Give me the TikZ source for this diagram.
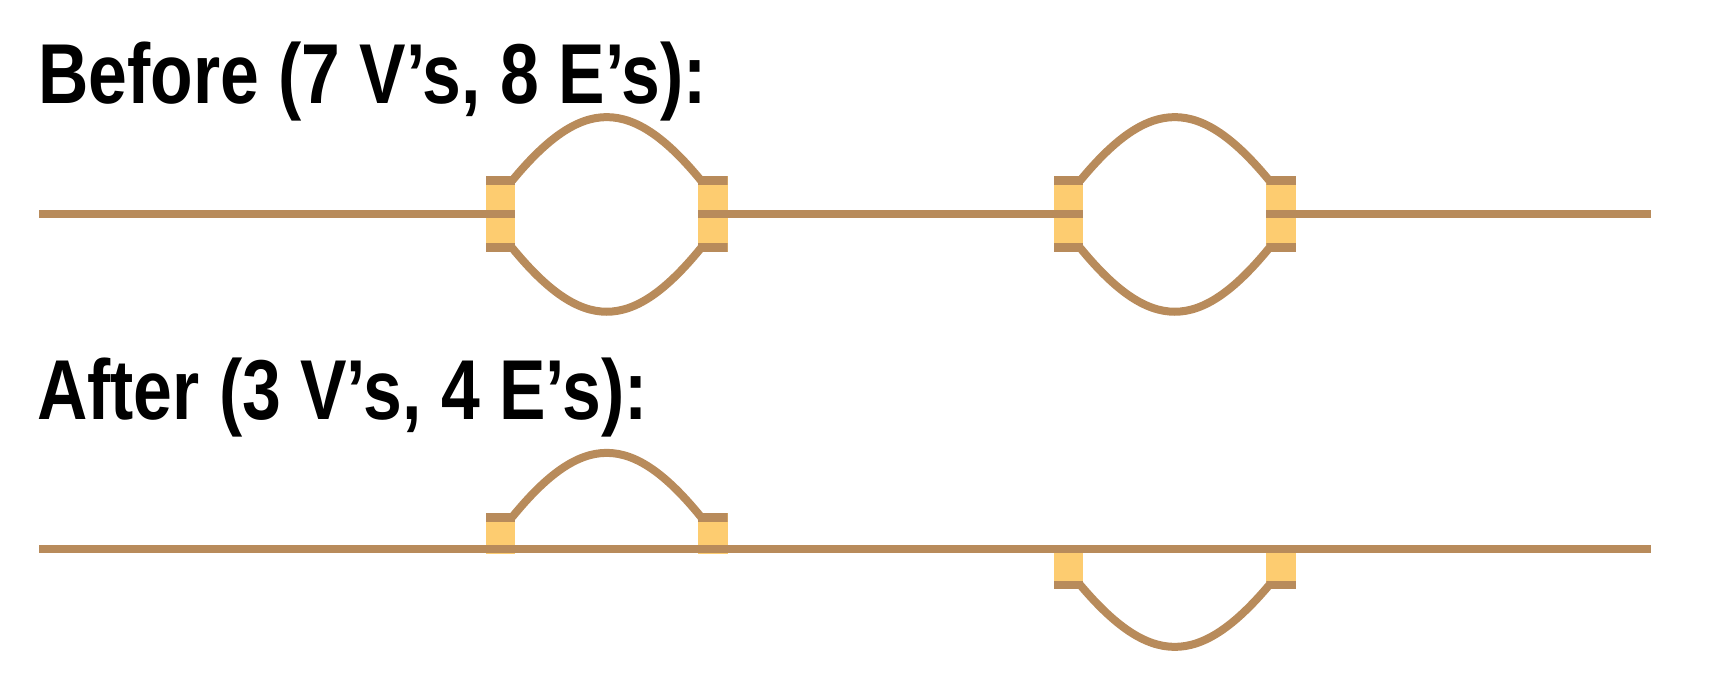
\documentclass[tikz,border=0pt]{standalone}
\usepackage{fontspec}
\setmainfont{Liberation Sans}
\usepackage{graphicx}
\usetikzlibrary{calc}
\definecolor{vbrown}{RGB}{184,139,91}
\definecolor{vyellow}{RGB}{253,204,112}
\tikzset{
  vert/.style={rectangle, fill=vyellow, minimum width=29.5pt, inner sep=0pt, outer sep=0pt},
  bothbars/.style={vert, minimum height=75.5pt,
    path picture={
      \fill[vbrown] (path picture bounding box.north west) rectangle ([yshift=-9pt]path picture bounding box.north east);
      \fill[vbrown] (path picture bounding box.south west) rectangle ([yshift=8.5pt]path picture bounding box.south east);}},
  topbar/.style={vert, minimum height=41pt,
    path picture={
      \fill[vbrown] (path picture bounding box.north west) rectangle ([yshift=-9pt]path picture bounding box.north east);}},
  botbar/.style={vert, minimum height=44pt,
    path picture={
      \fill[vbrown] (path picture bounding box.south west) rectangle ([yshift=8.5pt]path picture bounding box.south east);}},
  edge/.style={draw=vbrown, line width=8.5pt},
  arcedge/.style={draw=vbrown, line width=8pt},
  title/.style={font=\bfseries\fontsize{85}{85}\selectfont, anchor=base west, inner sep=0pt}
}
\begin{document}
\begin{tikzpicture}[x=1pt,y=-1pt]
\useasboundingbox (0,0) rectangle (1712,684);
% titles
\node[title] (t1) at (38,104) {\scalebox{0.82}[1]{Before (7 V’s, 8 E’s):}};
\node[title] (t2) at (37,419) {\scalebox{0.82}[1]{After (3 V’s, 4 E’s):}};
% before graph
\node[bothbars] (v1) at (500.5,214.25) {};
\node[bothbars] (v2) at (712.75,214.25) {};
\node[bothbars] (v3) at (1068.5,214.25) {};
\node[bothbars] (v4) at (1281,214.25) {};
\coordinate (b0) at (39,214.25);
\coordinate (b5) at (1651,214.25);
\draw[edge] (b0) -- (v1.east);
\draw[edge] (v2.west) -- (v3.east);
\draw[edge] (v4.west) -- (b5);
\draw[arcedge] ($(v1.north east)+(-3,4)$) .. controls (582,96) and (631.5,96) .. ($(v2.north west)+(3,4)$);
\draw[arcedge] ($(v1.south east)+(-3,-4)$) .. controls (582,333) and (631.5,333) .. ($(v2.south west)+(3,-4)$);
\draw[arcedge] ($(v3.north east)+(-3,4)$) .. controls (1150,96) and (1199.5,96) .. ($(v4.north west)+(3,4)$);
\draw[arcedge] ($(v3.south east)+(-3,-4)$) .. controls (1150,333) and (1199.5,333) .. ($(v4.south west)+(3,-4)$);
% after graph
\node[topbar] (u1) at (500.5,533.5) {};
\node[topbar] (u2) at (712.75,533.5) {};
\node[botbar] (u3) at (1068.5,567) {};
\node[botbar] (u4) at (1281,567) {};
\coordinate (a0) at (39,549);
\coordinate (a5) at (1651,549);
\draw[edge] (a0) -- (a5);
\draw[arcedge] ($(u1.north east)+(-3,4)$) .. controls (582,431.5) and (631.5,431.5) .. ($(u2.north west)+(3,4)$);
\draw[arcedge] ($(u3.south east)+(-3,-4)$) .. controls (1150,667.5) and (1199.5,667.5) .. ($(u4.south west)+(3,-4)$);
\end{tikzpicture}
\end{document}
